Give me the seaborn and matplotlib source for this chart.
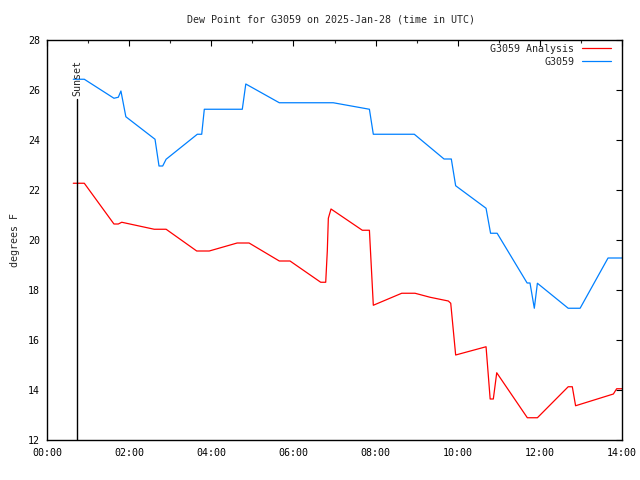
import matplotlib
matplotlib.use("Agg")
import matplotlib.pyplot as plt
import seaborn as sns
import pandas as pd
from matplotlib.ticker import MultipleLocator, FixedLocator

# --- data (hours UTC, dew point in F) ---
analysis_hours = [0.64, 0.908, 1.63, 1.736, 1.82, 2.61, 2.90, 3.645, 3.95, 4.63, 4.92,
                  5.656, 5.917, 6.664, 6.786, 6.825, 6.85, 6.915, 7.677, 7.85, 7.945,
                  8.637, 8.96, 9.326, 9.771, 9.83, 9.95, 10.69, 10.79, 10.867, 10.95,
                  11.695, 11.94, 12.69, 12.79, 12.87, 13.79, 13.87, 14.0]
analysis_vals = [22.27, 22.27, 20.64, 20.64, 20.71, 20.43, 20.43, 19.56, 19.56, 19.88, 19.88,
                 19.16, 19.16, 18.31, 18.31, 19.57, 20.87, 21.24, 20.39, 20.39, 17.39,
                 17.87, 17.87, 17.71, 17.56, 17.47, 15.40, 15.73, 13.64, 13.64, 14.69,
                 12.89, 12.89, 14.13, 14.13, 13.37, 13.84, 14.05, 14.05]

obs_hours = [0.64, 0.908, 1.63, 1.736, 1.80, 1.92, 2.63, 2.727, 2.817, 2.90, 3.66, 3.767,
             3.83, 4.755, 4.84, 5.656, 6.97, 7.85, 7.945, 8.943, 9.667, 9.844, 9.95,
             10.69, 10.80, 10.96, 11.69, 11.76, 11.865, 11.94, 12.69, 12.98, 13.66, 14.0]
obs_vals = [26.43, 26.43, 25.67, 25.71, 25.96, 24.93, 24.03, 22.96, 22.96, 23.23, 24.23, 24.23,
            25.23, 25.23, 26.24, 25.49, 25.49, 25.23, 24.23, 24.23, 23.24, 23.24, 22.17,
            21.27, 20.27, 20.27, 18.28, 18.28, 17.27, 18.27, 17.27, 17.27, 19.28, 19.28]

series_names = ["G3059 Analysis", "G3059"]
series_colors = ["#ff0000", "#0080ff"]

sunset_hour = 0.738
sunset_top = 25.63

x_ticks = [0, 2, 4, 6, 8, 10, 12, 14]
x_tick_labels = ["00:00", "02:00", "04:00", "06:00", "08:00", "10:00", "12:00", "14:00"]
y_ticks = [12, 14, 16, 18, 20, 22, 24, 26, 28]

title = "Dew Point for G3059 on 2025-Jan-28 (time in UTC)"
ylabel = "degrees F"

df = pd.concat([
    pd.DataFrame({"hour": analysis_hours, "dew": analysis_vals, "series": series_names[0]}),
    pd.DataFrame({"hour": obs_hours, "dew": obs_vals, "series": series_names[1]}),
])

sns.set_style("white")
plt.rcParams["font.family"] = ["DejaVu Sans Mono", "DejaVu Sans"]
fs = 7.2

fig = plt.figure(figsize=(6.4, 4.8), dpi=100)
ax = fig.add_axes([47 / 640, 40 / 480, 575 / 640, 400 / 480])

sns.lineplot(data=df, x="hour", y="dew", hue="series", palette=dict(zip(series_names, series_colors)),
             estimator=None, sort=False, linewidth=0.9, ax=ax)

ax.plot([sunset_hour, sunset_hour], [12, sunset_top], color="black", linewidth=1.0)
ax.text(sunset_hour, sunset_top + 0.15, "Sunset", rotation=90, ha="center", va="bottom", fontsize=fs)

ax.set_xlim(0, 14)
ax.set_ylim(12, 28)
ax.xaxis.set_major_locator(FixedLocator(x_ticks))
ax.set_xticklabels(x_tick_labels)
ax.xaxis.set_minor_locator(MultipleLocator(1))
ax.set_yticks(y_ticks)
ax.tick_params(axis="both", which="major", direction="in", length=4.5, width=0.8,
               top=True, right=True, labelsize=fs, colors="black")
ax.tick_params(axis="x", which="minor", direction="in", length=2.5, width=0.8, top=True)
ax.tick_params(axis="x", which="major", pad=6)
ax.tick_params(axis="y", which="major", pad=5)
for s in ax.spines.values():
    s.set_visible(True)
    s.set_color("black")
    s.set_linewidth(1.0)

ax.set_xlabel("")
ax.set_ylabel(ylabel, fontsize=fs, labelpad=6)
fig.text(331 / 640, 1 - 20 / 480, title, ha="center", va="center", fontsize=fs)

leg = ax.legend(loc="upper right", bbox_to_anchor=(0.98, 0.99), frameon=False, markerfirst=False,
                fontsize=fs, handlelength=2.9, handletextpad=0.7, labelspacing=0.3,
                borderaxespad=0, borderpad=0, title=None)

fig.savefig("out.png", dpi=100)
